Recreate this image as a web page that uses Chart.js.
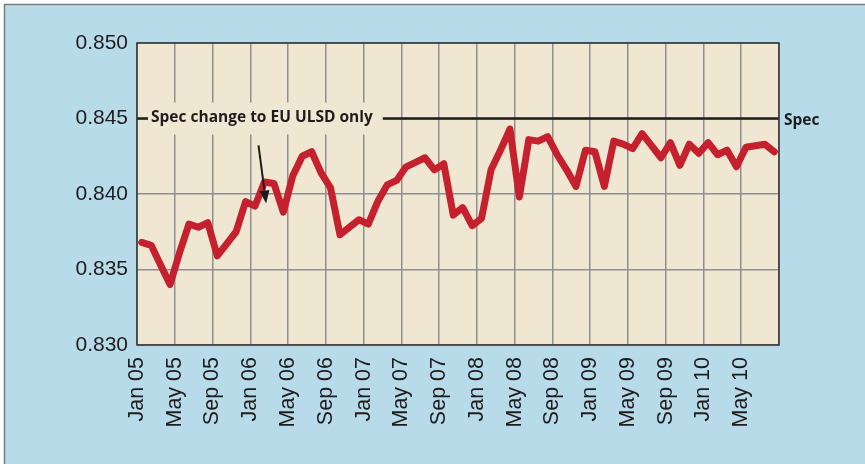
<!DOCTYPE html>
<html>
<head>
<meta charset="utf-8">
<script src="https://cdn.jsdelivr.net/npm/chart.js@4/dist/chart.umd.min.js"></script>
<style>
  html, body { margin: 0; padding: 0; background: #ffffff; }
  #chart { display: block; }
</style>
</head>
<body>
<canvas id="chart" width="865" height="464"></canvas>
<script>
// Monthly density readings, Jan 05 .. Aug 10 (one value per month)
var density = [
    0.8368, 0.8366, 0.8353, 0.8340, 0.8361, 0.8380, 0.8378, 0.8381, 0.8359, 0.8367, 0.8375, 0.8395,
    0.8392, 0.8408, 0.8407, 0.8388, 0.8412, 0.8425, 0.8428, 0.8414, 0.8404, 0.8373, 0.8378, 0.8383,
    0.8380, 0.8395, 0.8406, 0.8409, 0.8418, 0.8421, 0.8424, 0.8416, 0.8420, 0.8386, 0.8391, 0.8379,
    0.8384, 0.8416, 0.8429, 0.8443, 0.8398, 0.8436, 0.8435, 0.8438, 0.8426, 0.8416, 0.8405, 0.8429,
    0.8428, 0.8405, 0.8435, 0.8433, 0.8430, 0.8440, 0.8432, 0.8424, 0.8434, 0.8419, 0.8433, 0.8427,
    0.8434, 0.8426, 0.8429, 0.8418, 0.8431, 0.8432, 0.8433, 0.8428
];

// every 4th month gets a label
var tickLabels = [
    'Jan 05', 'May 05', 'Sep 05',
    'Jan 06', 'May 06', 'Sep 06',
    'Jan 07', 'May 07', 'Sep 07',
    'Jan 08', 'May 08', 'Sep 08',
    'Jan 09', 'May 09', 'Sep 09',
    'Jan 10', 'May 10'
];

var specValue = 0.845;
var specLabel = 'Spec';
var noteText = 'Spec change to EU ULSD only';
// arrow from note down to the spec change point (month index, value)
var arrowFrom = { x: 12.87, y: 0.84322 };
var arrowTo = { x: 13.68, y: 0.83937 };

var TEXT_COLOR = '#1f1c1d';
var GRID_COLOR = '#8f8f8f';
var TICK_FONT = '"Liberation Sans", Arial, sans-serif';

var lineData = density.map(function (v, i) { return { x: i + 0.5, y: v }; });
var monthCount = tickLabels.length * 4;

var framePlugin = {
    id: 'frame',
    beforeDraw: function (chart) {
        var ctx = chart.ctx;
        var area = chart.chartArea;
        ctx.save();
        ctx.fillStyle = '#ffffff';
        ctx.fillRect(0, 0, chart.width, chart.height);
        ctx.fillStyle = '#b8dbea';
        ctx.fillRect(4, 4, chart.width - 4, chart.height - 4);
        ctx.strokeStyle = '#7d7d7d';
        ctx.lineWidth = 1.5;
        ctx.beginPath();
        ctx.moveTo(4.5, chart.height);
        ctx.lineTo(4.5, 4.5);
        ctx.lineTo(chart.width, 4.5);
        ctx.stroke();
        ctx.fillStyle = '#f0e7d3';
        ctx.fillRect(area.left, area.top, area.right - area.left, area.bottom - area.top);
        ctx.restore();
    },
    afterDatasetsDraw: function (chart) {
        var ctx = chart.ctx;
        var area = chart.chartArea;
        var xs = chart.scales.x;
        var ys = chart.scales.y;
        ctx.save();

        // plot border
        ctx.strokeStyle = '#333333';
        ctx.lineWidth = 1.5;
        ctx.strokeRect(area.left, area.top, area.right - area.left, area.bottom - area.top);

        // note box over the spec line
        var specY = ys.getPixelForValue(specValue);
        ctx.font = 'bold 15.5px "Open Sans", "Noto Sans", sans-serif';
        var tx = area.left + 14;
        var tw = ctx.measureText(noteText).width;
        ctx.fillStyle = '#f0e7d3';
        ctx.fillRect(tx - 3, specY - 16, tw + 13, 32);
        ctx.fillStyle = TEXT_COLOR;
        ctx.textBaseline = 'middle';
        ctx.textAlign = 'left';
        ctx.fillText(noteText, tx, specY - 1);

        // spec label right of plot
        ctx.fillText(specLabel, area.right + 5, specY + 2);

        // arrow
        var x1 = xs.getPixelForValue(arrowFrom.x), y1 = ys.getPixelForValue(arrowFrom.y);
        var x2 = xs.getPixelForValue(arrowTo.x), y2 = ys.getPixelForValue(arrowTo.y);
        var ang = Math.atan2(y2 - y1, x2 - x1);
        var headLen = 13, headW = 5;
        var bx = x2 - headLen * Math.cos(ang), by = y2 - headLen * Math.sin(ang);
        ctx.strokeStyle = TEXT_COLOR;
        ctx.lineWidth = 2;
        ctx.beginPath();
        ctx.moveTo(x1, y1);
        ctx.lineTo(bx, by);
        ctx.stroke();
        ctx.fillStyle = TEXT_COLOR;
        ctx.beginPath();
        ctx.moveTo(x2, y2);
        ctx.lineTo(bx + headW * Math.sin(ang), by - headW * Math.cos(ang));
        ctx.lineTo(bx - headW * Math.sin(ang), by + headW * Math.cos(ang));
        ctx.closePath();
        ctx.fill();

        ctx.restore();
    }
};

new Chart(document.getElementById('chart').getContext('2d'), {
    type: 'line',
    data: {
        datasets: [
            {
                data: [{ x: 0, y: specValue }, { x: monthCount, y: specValue }],
                borderColor: TEXT_COLOR,
                borderWidth: 2.5,
                pointRadius: 0,
                fill: false,
            },
            {
                data: lineData,
                borderColor: '#c5202e',
                borderWidth: 7,
                borderJoinStyle: 'round',
                borderCapStyle: 'round',
                pointRadius: 0,
                tension: 0,
                fill: false,
            },
        ],
    },
    options: {
        responsive: false,
        devicePixelRatio: 1,
        animation: false,
        layout: { padding: { top: 43, right: 86, left: 0, bottom: 0 } },
        plugins: {
            legend: { display: false },
            tooltip: { enabled: false },
        },
        scales: {
            x: {
                type: 'linear',
                min: 0,
                max: monthCount,
                afterFit: function (scale) { scale.height = 119; },
                grid: { color: GRID_COLOR, lineWidth: 1.5, drawTicks: false },
                border: { display: false },
                ticks: {
                    stepSize: 4,
                    autoSkip: false,
                    maxRotation: 90,
                    minRotation: 90,
                    padding: 12,
                    color: TEXT_COLOR,
                    font: { family: TICK_FONT, size: 21.5 },
                    callback: function (v) { return tickLabels[v / 4] || ''; },
                },
            },
            y: {
                min: 0.830,
                max: 0.850,
                afterFit: function (scale) { scale.width = 137; },
                grid: { color: GRID_COLOR, lineWidth: 1.5, drawTicks: false },
                border: { display: false },
                ticks: {
                    stepSize: 0.005,
                    padding: 9,
                    color: TEXT_COLOR,
                    font: { family: TICK_FONT, size: 21 },
                    callback: function (v) { return v.toFixed(3); },
                },
            },
        },
    },
    plugins: [framePlugin],
});
</script>
</body>
</html>
